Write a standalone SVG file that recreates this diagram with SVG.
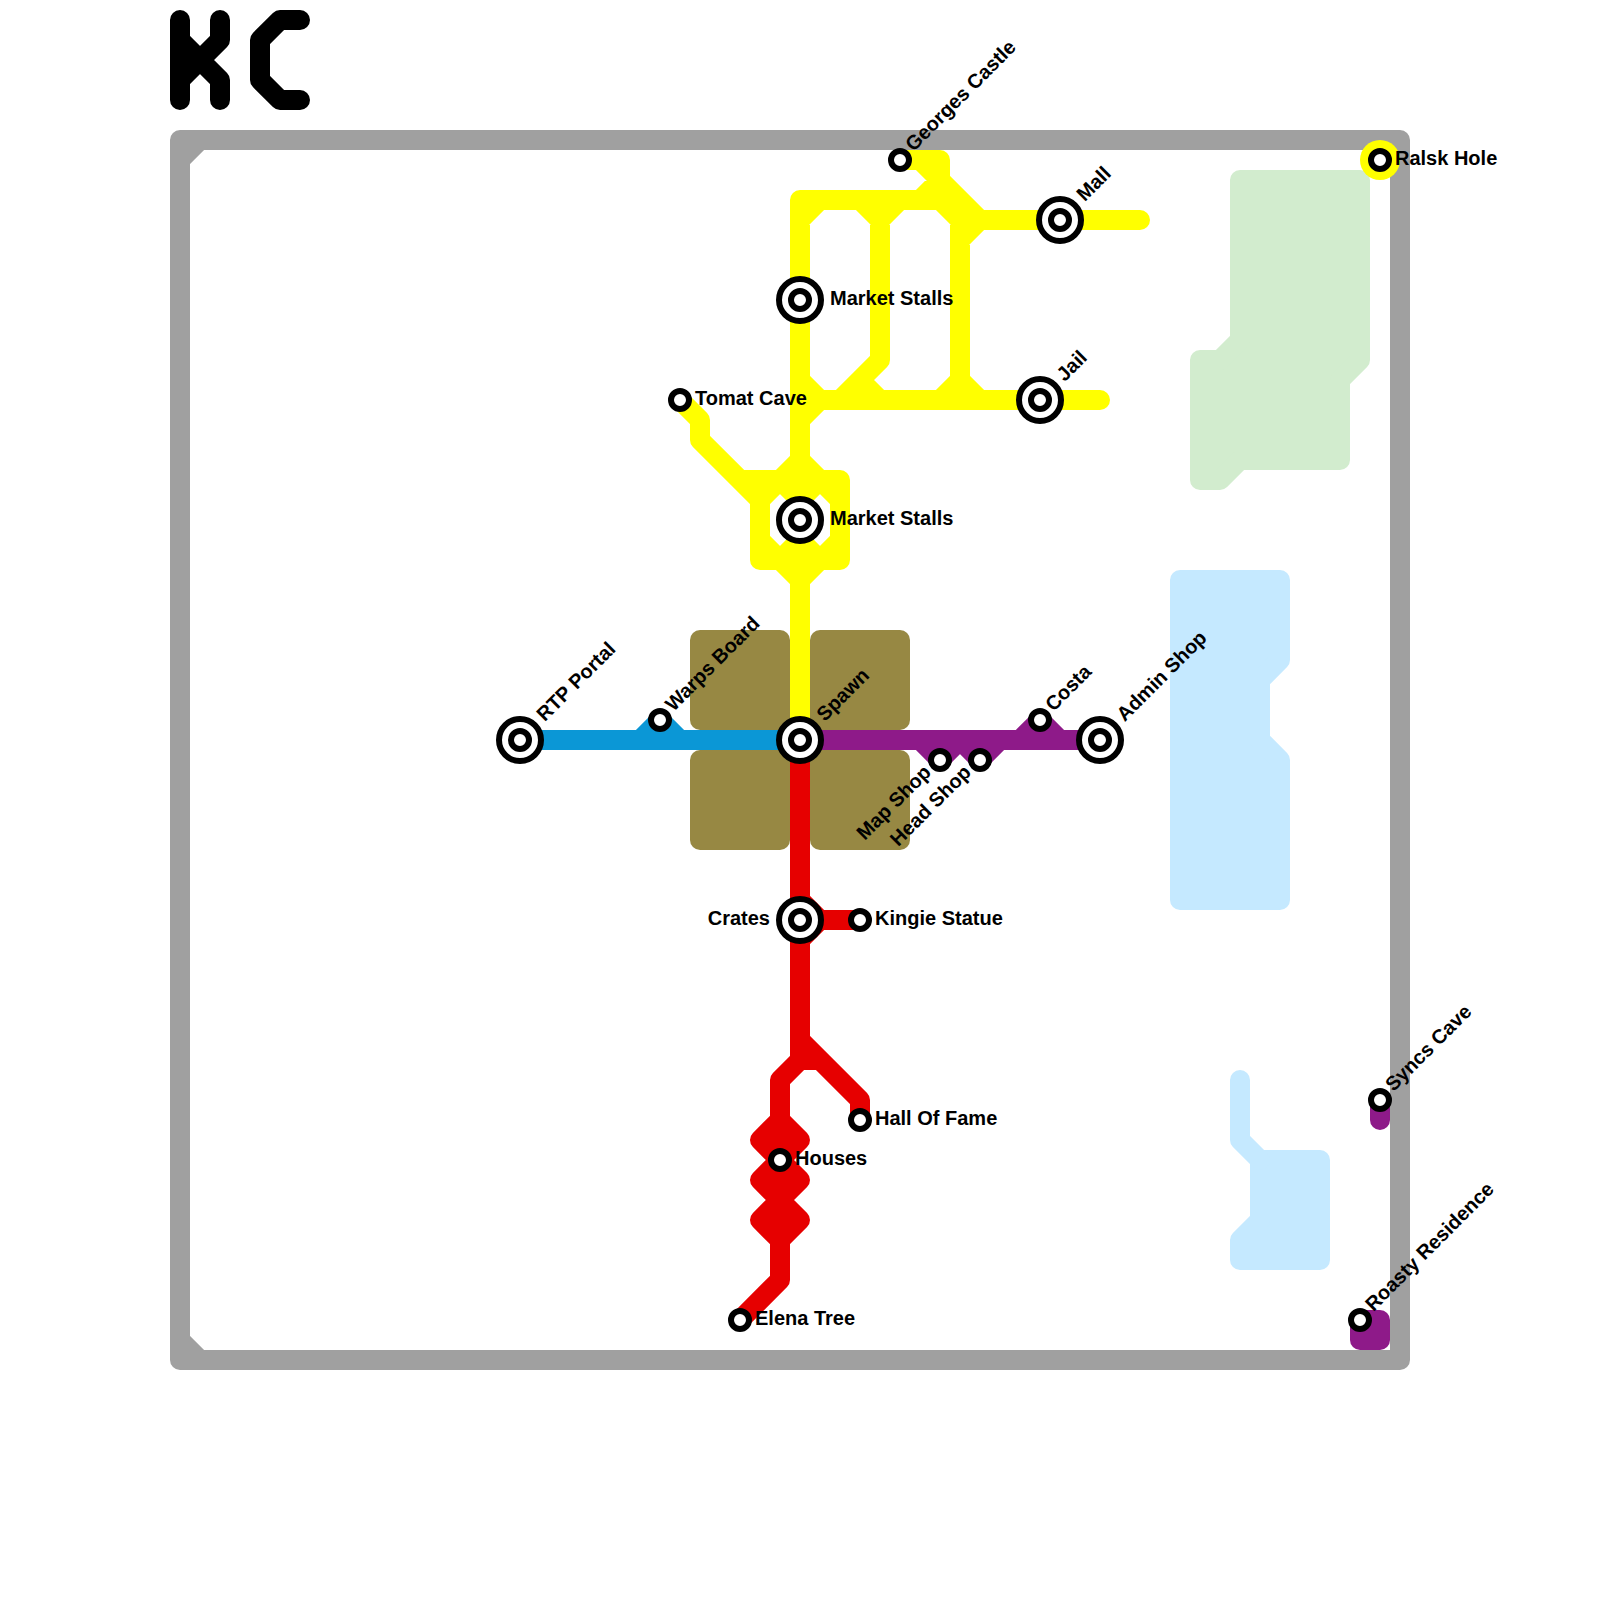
<svg xmlns="http://www.w3.org/2000/svg" width="1600" height="1600" viewBox="0 0 1600 1600">
<defs>
<style>
.ln{fill:none;stroke-width:20;stroke-linecap:round;stroke-linejoin:round}
.ar{stroke-width:20;stroke-linecap:round;stroke-linejoin:round}
.y{stroke:#ffff00}.b{stroke:#0b97d6}.r{stroke:#e60000}.p{stroke:#8e1a89}.g{stroke:#a0a0a0}.k{stroke:#000}
.st{fill:#fff;stroke:#000;stroke-width:6}
text{font-family:"Liberation Sans",Arial,sans-serif;font-weight:bold;font-size:20px;fill:#000}
</style>
<g id="big"><circle r="21" class="st"/><circle r="9" class="st"/></g>
<circle id="small" r="9" class="st"/>
</defs>
<rect width="1600" height="1600" fill="#fff"/>
<g id="areas">
<path class="ar" fill="#d2ecce" stroke="#d2ecce" d="M1240 180H1360V360L1340 380V460H1240L1220 480H1200V360H1220L1240 340Z"/>
<path class="ar" fill="#c5e9ff" stroke="#c5e9ff" d="M1180 580H1280V660L1260 680V740L1280 760V900H1180Z"/>
<path class="ar" fill="#c5e9ff" stroke="#c5e9ff" d="M1260 1160H1320V1260H1240V1240L1260 1220Z"/>
<path class="ln" stroke="#c5e9ff" d="M1240 1080V1140L1260 1160"/>
<g fill="#978843"><rect x="690" y="630" width="100" height="100" rx="10"/><rect x="810" y="630" width="100" height="100" rx="10"/><rect x="690" y="750" width="100" height="100" rx="10"/><rect x="810" y="750" width="100" height="100" rx="10"/></g>
</g>
<g id="logo"><path class="ln k" d="M180 20V100M220 20V40L180 80M180 40L220 80V100M300 20H280L260 40V80L280 100H300"/></g>
<g id="connectors">
<path class="ln g" d="M180 160L200 140M180 1340L200 1360M180 140H1400V1360H180Z"/>
<path class="ln y" d="M800 740V200H960M800 220L820 200M860 200L880 220L900 200M880 200V360L840 400M860 380L880 400M800 380L820 400L800 420M800 400H1100M960 220V400M940 200L960 220L980 220H1140M960 240L980 220M940 400L960 380L980 400M900 160H940V180M920 160L980 220M920 200L940 180M680 400L700 420V440L760 500V560H840V480H740M780 480L800 460L820 480L800 500L780 480M780 560L800 580L820 560L800 540L780 560M780 480L760 500M820 480L840 500M760 540L780 560M840 540L820 560"/>
<circle cx="1380" cy="160" r="20" fill="#ffff00"/>
<path class="ln b" d="M520 740H800M640 740L660 720L680 740"/>
<path class="ln r" d="M800 740V1060L780 1080V1280L740 1320M800 900L820 920L800 940M800 920H860M800 1040L860 1100V1120M800 1060H820M780 1120L760 1140L780 1160L760 1180L780 1200L760 1220L780 1240L800 1220L780 1200L800 1180L780 1160L800 1140Z"/>
<path class="ln p" d="M800 740H1100M920 740L940 760L960 740L980 760L1000 740M1020 740L1040 720L1060 740M1380 1100V1120"/>
<rect x="1350" y="1310" width="40" height="40" rx="10" fill="#8e1a89"/>
</g>
<g id="n-market1"><use href="#big" x="800" y="300"/><text x="830" y="305">Market Stalls</text></g>
<g id="n-market2"><use href="#big" x="800" y="520"/><text x="830" y="525">Market Stalls</text></g>
<g id="n-mall"><use href="#big" x="1060" y="220"/><text transform="translate(1084.7 202.3) rotate(-45)">Mall</text></g>
<g id="n-jail"><use href="#big" x="1040" y="400"/><text transform="translate(1064.7 382.3) rotate(-45)">Jail</text></g>
<g id="n-spawn"><use href="#big" x="800" y="740"/><text transform="translate(824.7 722.3) rotate(-45)">Spawn</text></g>
<g id="n-rtp"><use href="#big" x="520" y="740"/><text transform="translate(544.7 722.3) rotate(-45)">RTP Portal</text></g>
<g id="n-admin"><use href="#big" x="1100" y="740"/><text transform="translate(1124.7 722.3) rotate(-45)">Admin Shop</text></g>
<g id="n-crates"><use href="#big" x="800" y="920"/><text x="770" y="925" text-anchor="end">Crates</text></g>
<g id="n-georges"><use href="#small" x="900" y="160"/><text transform="translate(913.4 152.2) rotate(-45)">Georges Castle</text></g>
<g id="n-ralsk"><use href="#small" x="1380" y="160"/><text x="1395" y="165">Ralsk Hole</text></g>
<g id="n-tomat"><use href="#small" x="680" y="400"/><text x="695" y="405">Tomat Cave</text></g>
<g id="n-warps"><use href="#small" x="660" y="720"/><text transform="translate(673.4 712.2) rotate(-45)">Warps Board</text></g>
<g id="n-costa"><use href="#small" x="1040" y="720"/><text transform="translate(1053.4 712.2) rotate(-45)">Costa</text></g>
<g id="n-map"><use href="#small" x="940" y="760"/><text text-anchor="end" transform="translate(932.2 773.4) rotate(-45)">Map Shop</text></g>
<g id="n-head"><use href="#small" x="980" y="760"/><text text-anchor="end" transform="translate(972.2 773.4) rotate(-45)">Head Shop</text></g>
<g id="n-kingie"><use href="#small" x="860" y="920"/><text x="875" y="925">Kingie Statue</text></g>
<g id="n-hall"><use href="#small" x="860" y="1120"/><text x="875" y="1125">Hall Of Fame</text></g>
<g id="n-houses"><use href="#small" x="780" y="1160"/><text x="795" y="1165">Houses</text></g>
<g id="n-elena"><use href="#small" x="740" y="1320"/><text x="755" y="1325">Elena Tree</text></g>
<g id="n-syncs"><use href="#small" x="1380" y="1100"/><text transform="translate(1393.4 1092.2) rotate(-45)">Syncs Cave</text></g>
<g id="n-roasty"><use href="#small" x="1360" y="1320"/><text transform="translate(1373.4 1312.2) rotate(-45)">Roasty Residence</text></g>
</svg>
